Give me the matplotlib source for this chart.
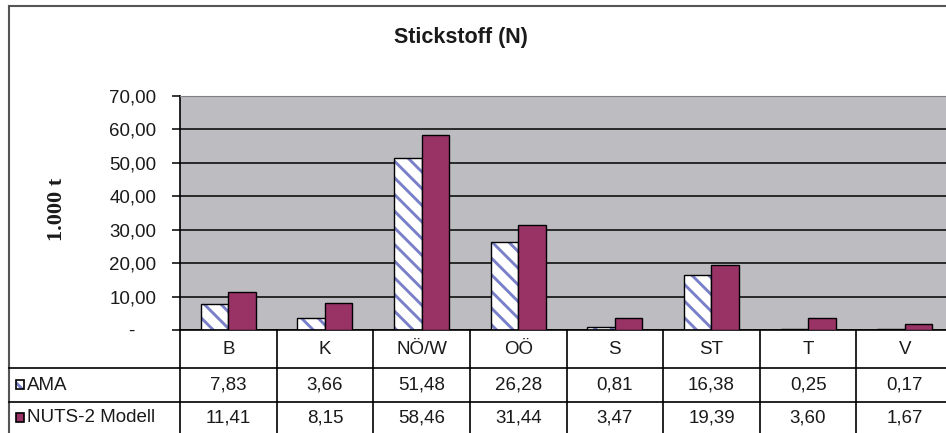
import matplotlib
matplotlib.use("Agg")
import matplotlib.pyplot as plt
import matplotlib.transforms as mtransforms
from matplotlib.patches import Rectangle
import numpy as np

# Data
categories = ["B", "K", "NÖ/W", "OÖ", "S", "ST", "T", "V"]
ama = [7.83, 3.66, 51.48, 26.28, 0.81, 16.38, 0.25, 0.17]
nuts2 = [11.41, 8.15, 58.46, 31.44, 3.47, 19.39, 3.60, 1.67]
series_names = ["AMA", "NUTS-2 Modell"]
title = "Stickstoff (N)"
ylabel = "1.000 t"
yticks = [0, 10, 20, 30, 40, 50, 60, 70]

W, H = 946, 433
plt.rcParams["font.family"] = ["Liberation Sans", "DejaVu Sans"]
plt.rcParams["hatch.linewidth"] = 2.1

fig = plt.figure(figsize=(W / 100, H / 100), dpi=100)
fig.patch.set_facecolor("white")
txt_col = "#1a1a1a"


def frac_box(x0, y0, x1, y1):
    return [x0 / W, 1 - y1 / H, (x1 - x0) / W, (y1 - y0) / H]


# Plot area
ax = fig.add_axes(frac_box(180, 96, 953, 330))
ax.set_facecolor("#bdbdc1")
ax.set_xlim(-0.5, len(categories) - 0.5)
ax.set_ylim(0, 70)
ax.set_yticks(yticks)
ax.yaxis.grid(True, color="black", linewidth=1.1)
ax.set_axisbelow(True)


def fmt(v):
    if v == 0:
        return "-    "
    return f"{v:.2f}".replace(".", ",")


ax.set_yticklabels([fmt(v) for v in yticks], fontsize=13.5, color=txt_col)
ax.tick_params(axis="y", direction="out", length=6, width=1.1, pad=11)
ax.set_xticks([])
for side in ["left", "bottom"]:
    ax.spines[side].set_color("black")
    ax.spines[side].set_linewidth(1.2)
ax.spines["top"].set_color("#808080")
ax.spines["right"].set_visible(False)

x = np.arange(len(categories))
bw = 0.285
hatch_col = "#7a80c8"
# hatched AMA bars (fill + hatch), then black outline on top
ax.bar(x - bw / 2, ama, width=bw, facecolor="white", edgecolor=hatch_col,
       hatch="\\\\", linewidth=0, zorder=2)
ax.bar(x - bw / 2, ama, width=bw, fill=False, edgecolor="black",
       linewidth=1.0, zorder=3)
ax.bar(x + bw / 2, nuts2, width=bw, color="#993366", edgecolor="black",
       linewidth=1.0, zorder=3)

# Overlay in pixel coordinates for frame, title and data table
ov = fig.add_axes([0, 0, 1, 1], facecolor="none")
ov.set_xlim(0, W)
ov.set_ylim(H, 0)
ov.axis("off")

ov.plot([9, W + 5], [6, 6], color="#555555", linewidth=1.5, clip_on=False)
ov.plot([9, 9], [6, H + 5], color="#555555", linewidth=1.5, clip_on=False)

ov.text(461, 38, title, fontsize=15.5, fontweight="bold", ha="center",
        va="center", color=txt_col)
ov.text(57, 209, ylabel, fontsize=16, fontweight="bold", rotation=90,
        ha="center", va="center", color=txt_col,
        family=["Liberation Serif", "DejaVu Serif"])

# Table: columns follow the category axis, rows in pixels
blend = mtransforms.blended_transform_factory(ax.transData, ov.transData)
for i in range(len(categories) + 1):
    ov.plot([i - 0.5, i - 0.5], [330, H + 5], color="black", linewidth=1.2,
            transform=blend, clip_on=False)
for yl in (368, 402):
    ov.plot([9, W + 5], [yl, yl], color="black", linewidth=1.2, clip_on=False)

row_y = {"head": 349, "ama": 385, "nuts": 418}
tfs = 13.5
for i, c in enumerate(categories):
    ov.text(i, row_y["head"], c, transform=blend, ha="center", va="center",
            fontsize=tfs, color=txt_col)
    ov.text(i, row_y["ama"], f"{ama[i]:.2f}".replace(".", ","), transform=blend,
            ha="center", va="center", fontsize=tfs, color=txt_col)
    ov.text(i, row_y["nuts"], f"{nuts2[i]:.2f}".replace(".", ","), transform=blend,
            ha="center", va="center", fontsize=tfs, color=txt_col)

# Legend keys inside the table
k1 = Rectangle((16, row_y["ama"] - 5), 8, 9, facecolor="white",
               edgecolor=hatch_col, hatch="\\\\", linewidth=0)
ov.add_patch(k1)
ov.add_patch(Rectangle((16, row_y["ama"] - 5), 8, 9, fill=False,
                       edgecolor="black", linewidth=1.2))
ov.add_patch(Rectangle((16, row_y["nuts"] - 5), 8, 9, facecolor="#993366",
                       edgecolor="black", linewidth=1.2))
ov.text(27, row_y["ama"], series_names[0], ha="left", va="center",
        fontsize=tfs, color=txt_col)
ov.text(27, row_y["nuts"], series_names[1], ha="left", va="center",
        fontsize=tfs, color=txt_col)

fig.savefig("out.png", dpi=100)
